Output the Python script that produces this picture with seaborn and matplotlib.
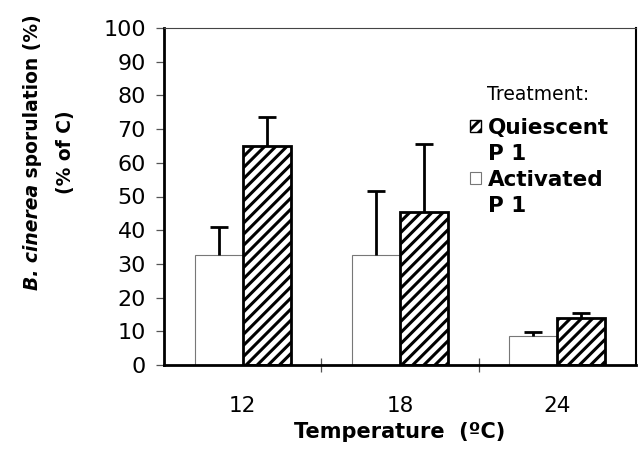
import pandas as pd
import matplotlib
matplotlib.use("Agg")
import matplotlib.pyplot as plt
from matplotlib.patches import Patch, Rectangle
from matplotlib.legend_handler import HandlerPatch
import seaborn as sns

# donnees
temperatures = ["12", "18", "24"]
treatments = ["Activated P 1", "Quiescent P 1"]
activated = [32.5, 32.5, 8.5]
activated_err = [8.5, 19.0, 1.3]
quiescent = [65.0, 45.5, 14.0]
quiescent_err = [8.5, 20.0, 1.3]
yticks = list(range(0, 101, 10))

df = pd.DataFrame({
    "Temperature": temperatures * 2,
    "Treatment": [treatments[0]] * 3 + [treatments[1]] * 3,
    "Value": activated + quiescent,
})
errs = {treatments[0]: activated_err, treatments[1]: quiescent_err}

sns.set_style("white")
plt.rcParams["font.family"] = ["DejaVu Sans"]
plt.rcParams["text.color"] = "black"
plt.rcParams["xtick.color"] = "black"
plt.rcParams["ytick.color"] = "black"
plt.rcParams["axes.labelcolor"] = "black"
plt.rcParams["hatch.linewidth"] = 2.2

fig = plt.figure(figsize=(6.42, 4.54), dpi=100)
ax = fig.add_axes([164 / 642, 1 - 365 / 454, 472 / 642, 337 / 454])

sns.barplot(data=df, x="Temperature", y="Value", hue="Treatment",
            hue_order=treatments, order=temperatures, palette=["white", "white"],
            width=0.61, errorbar=None, legend=False, ax=ax)

for cont, tr in zip(ax.containers, treatments):
    for bar, e in zip(cont, errs[tr]):
        if tr == treatments[1]:
            bar.set_hatch("///")
            bar.set_edgecolor("black")
            bar.set_linewidth(2)
        else:
            bar.set_edgecolor("#777777")
            bar.set_linewidth(0.8)
        xc = bar.get_x() + bar.get_width() / 2
        top = bar.get_height()
        ax.vlines(xc, top, top + e, color="black", linewidth=2, zorder=3)
        ax.plot([xc], [top + e], marker="_", markersize=13, markeredgewidth=2,
                color="black", zorder=3)

ax.set_ylim(0, 100)
ax.set_xlim(-0.5, 2.5)
ax.set_yticks(yticks)
ax.set_yticklabels([str(t) for t in yticks], fontsize=16)
ax.tick_params(axis="y", direction="out", length=6, width=0.9, color="#555555", pad=7, left=True)
ax.tick_params(axis="x", which="major", length=0, labelsize=15.5, pad=22)
ax.set_xticks([0.5, 1.5], minor=True)
ax.tick_params(axis="x", which="minor", direction="inout", length=10, width=0.9, color="#555555", bottom=True)

for s in ["left", "bottom"]:
    ax.spines[s].set_linewidth(2)
    ax.spines[s].set_color("black")
ax.spines["right"].set_linewidth(1.5)
ax.spines["right"].set_color("black")
ax.spines["top"].set_linewidth(0.8)
ax.spines["top"].set_color("#444444")

ax.set_xlabel("Temperature  (ºC)", fontsize=15, fontweight="bold", labelpad=5)
ax.set_ylabel("")

# label y en deux morceaux (italique + normal)
fig.canvas.draw()
r = fig.canvas.get_renderer()
fs = 13.5
t1 = fig.text(0, 0, "B. cinerea", rotation=90, rotation_mode="anchor",
              fontsize=fs, fontweight="bold", style="italic", ha="left", va="center")
t2 = fig.text(0, 0, " sporulation (%)", rotation=90, rotation_mode="anchor",
              fontsize=fs, fontweight="bold", ha="left", va="center")
h1 = t1.get_window_extent(r).height
h2 = t2.get_window_extent(r).height
yc = 454 - 152
y0 = yc - (h1 + h2) / 2
t1.set_position((32 / 642, y0 / 454))
t2.set_position((32 / 642, (y0 + h1) / 454))
fig.text(65 / 642, yc / 454, "(% of C)", rotation=90, fontsize=fs,
         fontweight="bold", ha="center", va="center")

ax.text((487 - 164) / 472, (365 - 95) / 337, "Treatment:", transform=ax.transAxes,
        fontsize=13.5, ha="left", va="center")


def first_line_box(legend, orig_handle, xdescent, ydescent, width, height, fontsize):
    # remonter la case au niveau de la premiere ligne du texte
    return Rectangle((-xdescent, -ydescent + 0.72 * fontsize), width, height)


handles = [Patch(facecolor="white", edgecolor="black", hatch="///", linewidth=1),
           Patch(facecolor="white", edgecolor="#777777", linewidth=0.8)]
leg = ax.legend(handles, ["Quiescent\nP 1", "Activated\nP 1"], loc="upper left",
                bbox_to_anchor=((470 - 164) / 472, (365 - 118) / 337), frameon=False,
                prop={"weight": "bold", "size": 15.5}, handlelength=0.5, handleheight=0.5,
                handletextpad=0.35, labelspacing=0.3, borderpad=0, borderaxespad=0,
                handler_map={Patch: HandlerPatch(patch_func=first_line_box)})
for t in leg.get_texts():
    t.set_linespacing(1.35)

plt.savefig("out.png", dpi=100)
